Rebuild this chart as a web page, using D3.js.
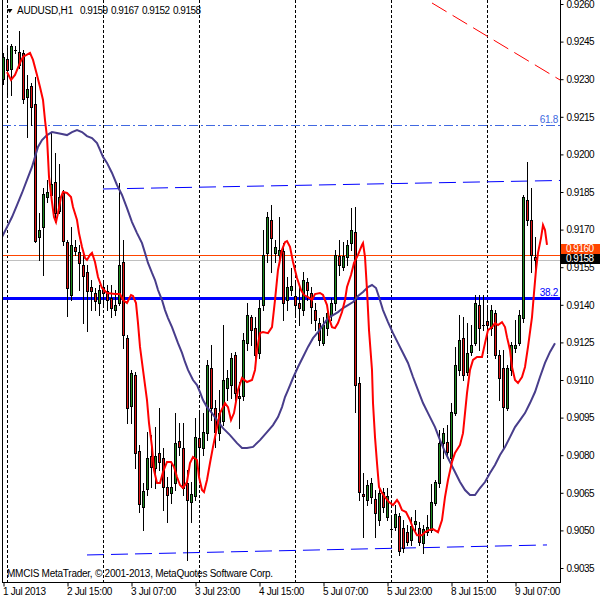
<!DOCTYPE html>
<html><head><meta charset="utf-8">
<script src="https://cdn.jsdelivr.net/npm/d3@7"></script>
<style>
body{margin:0;background:#fff}
svg{display:block}
text{font-family:"Liberation Sans",Arial,sans-serif;font-size:10px}
</style>
</head><body>
<svg id="chart" width="600" height="600"></svg>
<script>
// ---------- DATA ----------
const symbolLabel = "AUDUSD,H1";
const headerOHLC = ["0.9159", "0.9167", "0.9152", "0.9158"];
const copyright = "MMCIS MetaTrader, \u00A9 2001-2013, MetaQuotes Software Corp.";

const open = [
0.92301,0.92381,0.92341,0.92417,0.92409,0.92405,0.92229,0.92273,0.92201,0.91670,
0.91710,0.91830,0.91838,0.91890,0.91774,0.91846,0.91650,0.91439,0.91631,0.91611,
0.91559,0.91531,0.91471,0.91447,0.91407,0.91471,0.91455,0.91427,0.91379,0.91407,
0.91571,0.91267,0.90996,0.91120,0.90817,0.90593,0.90665,0.90797,0.90749,0.90809,
0.90789,0.90673,0.90649,0.90689,0.90856,0.90829,0.90689,0.90613,0.90637,0.90868,
0.90829,0.90888,0.91148,0.90988,0.90888,0.90936,0.91068,0.91080,0.91200,0.91036,
0.91036,0.91247,0.91351,0.91307,0.91208,0.91399,0.91607,0.91738,0.91607,0.91599,
0.91615,0.91419,0.91459,0.91435,0.91407,0.91379,0.91491,0.91447,0.91379,0.91327,
0.91247,0.91307,0.91359,0.91407,0.91595,0.91551,0.91591,0.91646,0.91690,0.91088,
0.90645,0.90621,0.90633,0.90625,0.90541,0.90653,0.90553,0.90505,0.90513,0.90557,
0.90509,0.90493,0.90461,0.90525,0.90509,0.90449,0.90493,0.90501,0.90609,0.90689,
0.90848,0.90852,0.90789,0.90968,0.91140,0.91267,0.91132,0.91212,0.91247,0.91399,
0.91319,0.91335,0.91307,0.91367,0.91200,0.91148,0.90988,0.91140,0.91228,0.91247,
0.91347,0.91818,0.91738,0.91590];

const high = [
0.92405,0.92436,0.92440,0.92432,0.92492,0.92417,0.92317,0.92285,0.92309,0.91766,
0.91866,0.91898,0.92089,0.92006,0.91962,0.91858,0.91658,0.91710,0.91658,0.91639,
0.91619,0.91559,0.91499,0.91467,0.91479,0.91487,0.91479,0.91479,0.91459,0.91886,
0.91658,0.91279,0.91140,0.91132,0.90841,0.90689,0.90892,0.90880,0.90912,0.90988,
0.90829,0.90713,0.90769,0.90968,0.90928,0.90928,0.90741,0.90693,0.90948,0.90968,
0.90968,0.91180,0.91239,0.91020,0.91060,0.91319,0.91140,0.91208,0.91212,0.91092,
0.91287,0.91407,0.91359,0.91351,0.91419,0.91698,0.91770,0.91798,0.91658,0.91750,
0.91646,0.91511,0.91547,0.91499,0.91471,0.91531,0.91507,0.91471,0.91407,0.91347,
0.91351,0.91387,0.91427,0.91619,0.91658,0.91650,0.91658,0.91786,0.91790,0.91112,
0.90729,0.90701,0.90709,0.90661,0.90673,0.90669,0.90669,0.90561,0.90601,0.90569,
0.90541,0.90521,0.90553,0.90581,0.90533,0.90520,0.90561,0.90685,0.90701,0.90900,
0.90908,0.90920,0.91008,0.91232,0.91359,0.91351,0.91327,0.91319,0.91439,0.91439,
0.91439,0.91399,0.91399,0.91379,0.91220,0.91220,0.91160,0.91251,0.91339,0.91379,
0.91838,0.91970,0.91866,0.91670];

const low = [
0.92281,0.92237,0.92237,0.92405,0.92345,0.92205,0.92069,0.92117,0.91650,0.91579,
0.91519,0.91810,0.91818,0.91730,0.91766,0.91639,0.91355,0.91419,0.91599,0.91459,
0.91327,0.91295,0.91379,0.91379,0.91359,0.91399,0.91379,0.91351,0.91359,0.91399,
0.91228,0.90928,0.90928,0.90749,0.90573,0.90501,0.90641,0.90673,0.90669,0.90741,
0.90581,0.90533,0.90609,0.90661,0.90801,0.90641,0.90382,0.90533,0.90621,0.90713,
0.90801,0.90860,0.90940,0.90833,0.90860,0.90920,0.91020,0.91028,0.91008,0.90908,
0.91020,0.91220,0.91239,0.91168,0.91188,0.91379,0.91571,0.91531,0.91571,0.91571,
0.91339,0.91379,0.91439,0.91359,0.91319,0.91359,0.91419,0.91327,0.91299,0.91239,
0.91239,0.91279,0.91339,0.91379,0.91519,0.91539,0.91559,0.91619,0.90972,0.90621,
0.90473,0.90601,0.90609,0.90473,0.90521,0.90573,0.90541,0.90481,0.90501,0.90402,
0.90414,0.90442,0.90442,0.90501,0.90442,0.90410,0.90481,0.90493,0.90601,0.90673,
0.90789,0.90801,0.90781,0.90960,0.91120,0.91100,0.91120,0.91200,0.91239,0.91220,
0.91299,0.91208,0.91279,0.91188,0.91020,0.90829,0.90980,0.91120,0.91212,0.91239,
0.91331,0.91718,0.91531,0.91520];

const close = [
0.92389,0.92337,0.92432,0.92416,0.92357,0.92221,0.92261,0.92189,0.91654,0.91698,
0.91842,0.91850,0.91882,0.91766,0.91830,0.91654,0.91467,0.91639,0.91615,0.91567,
0.91515,0.91455,0.91455,0.91415,0.91459,0.91447,0.91419,0.91387,0.91399,0.91559,
0.91279,0.90988,0.91128,0.90809,0.90605,0.90657,0.90789,0.90753,0.90797,0.90773,
0.90673,0.90641,0.90673,0.90848,0.90833,0.90669,0.90621,0.90645,0.90872,0.90833,
0.90892,0.91160,0.90988,0.90892,0.90968,0.91100,0.91108,0.91188,0.91048,0.91028,
0.91259,0.91359,0.91299,0.91200,0.91387,0.91599,0.91750,0.91666,0.91631,0.91619,
0.91407,0.91471,0.91475,0.91399,0.91387,0.91499,0.91459,0.91391,0.91339,0.91259,
0.91319,0.91367,0.91407,0.91599,0.91559,0.91595,0.91639,0.91698,0.91080,0.90653,
0.90637,0.90681,0.90689,0.90569,0.90649,0.90593,0.90637,0.90504,0.90565,0.90418,
0.90430,0.90453,0.90517,0.90537,0.90453,0.90505,0.90513,0.90613,0.90693,0.90848,
0.90888,0.90813,0.90972,0.91160,0.91259,0.91120,0.91208,0.91239,0.91407,0.91307,
0.91318,0.91319,0.91379,0.91200,0.91108,0.90992,0.91148,0.91239,0.91239,0.91359,
0.91830,0.91738,0.91599,0.91580];

// moving averages: [bar position, price]
const fastMA = [
[1,0.92329],[2,0.92297],[3,0.92317],[4.25,0.92365],[5,0.92389],[6.75,0.92405],[7.5,0.92377],[8.5,0.92317],[9.25,0.92269],[10,0.92217],
[10.5,0.92137],[11,0.92069],[11.25,0.91990],[11.5,0.91910],[12.25,0.91810],[12.75,0.91750],[13.25,0.91730],[13.75,0.91766],[14.5,0.91830],[15,0.91850],
[16,0.91846],[17,0.91830],[17.5,0.91790],[18.5,0.91738],[19,0.91686],[19.75,0.91631],[20.5,0.91587],[21,0.91579],[21.75,0.91599],[22.25,0.91607],
[23,0.91571],[23.75,0.91511],[24.75,0.91467],[26,0.91447],[28,0.91443],[29.25,0.91443],[30,0.91419],[31,0.91407],[32,0.91439],[32.5,0.91435],
[33.25,0.91407],[33.75,0.91327],[34.25,0.91232],[35,0.91140],[36,0.91020],[36.5,0.90928],[37.25,0.90833],[37.75,0.90741],[38.5,0.90689],[39.25,0.90689],
[40,0.90733],[41,0.90773],[42,0.90773],[42.75,0.90753],[43.5,0.90713],[44.25,0.90681],[45,0.90669],[46,0.90693],[46.75,0.90769],[47.5,0.90793],
[48.5,0.90781],[49,0.90713],[49.75,0.90661],[50.25,0.90653],[51,0.90701],[51.75,0.90769],[52.5,0.90833],[53,0.90872],[54.25,0.90968],[55.5,0.91008],
[56.25,0.90992],[57,0.90940],[57.75,0.90968],[58.75,0.91060],[59.75,0.91108],[61,0.91092],[62.25,0.91100],[63,0.91140],[63.5,0.91220],[64.25,0.91287],
[65,0.91291],[66.25,0.91287],[67.25,0.91311],[68,0.91419],[68.75,0.91539],[69.75,0.91619],[70.5,0.91650],[71,0.91654],[71.75,0.91631],[72.5,0.91571],
[73.5,0.91507],[74.5,0.91459],[75.25,0.91439],[76.25,0.91431],[77.25,0.91419],[78,0.91443],[79.25,0.91447],[80,0.91439],[81,0.91399],[81.5,0.91347],
[82.25,0.91311],[83,0.91307],[83.75,0.91327],[84.75,0.91371],[85.5,0.91419],[86,0.91471],[87,0.91519],[87.75,0.91567],[88.75,0.91599],[89.75,0.91639],
[90,0.91646],[90.5,0.91591],[91,0.91459],[91.5,0.91299],[92.25,0.91140],[92.5,0.91008],[93,0.90872],[93.5,0.90769],[94,0.90673],[94.75,0.90649],
[95.5,0.90633],[96.5,0.90613],[97.5,0.90601],[98.5,0.90621],[99,0.90609],[99.75,0.90581],[100.75,0.90573],[101.75,0.90541],[102.5,0.90509],[103.5,0.90481],
[104.75,0.90481],[105.5,0.90493],[106.5,0.90501],[107.5,0.90505],[108.75,0.90493],[109.75,0.90541],[110.5,0.90633],[111.25,0.90701],[112.25,0.90773],[113,0.90809],
[114.25,0.90841],[115,0.90888],[115.5,0.90968],[116,0.91048],[116.75,0.91140],[117.5,0.91180],[118.5,0.91192],[119.75,0.91192],[120.5,0.91247],[121.25,0.91299],
[122.25,0.91311],[123,0.91327],[123.75,0.91319],[124.75,0.91331],[125.5,0.91311],[126,0.91271],[126.75,0.91220],[127.25,0.91152],[128,0.91100],[128.75,0.91088],
[129.75,0.91112],[130.5,0.91152],[131.25,0.91232],[132.25,0.91351],[132.75,0.91447],[133.25,0.91539],[133.75,0.91607],[134.5,0.91666],[135,0.91718],[135.5,0.91698],
[136,0.91639]];

const slowMA = [
[-0.25,0.91670],[1,0.91710],[2.25,0.91750],[3.5,0.91798],[4.75,0.91846],[6,0.91898],[7.25,0.91950],[8,0.91990],[8.75,0.92030],[9.75,0.92057],
[11,0.92077],[12.25,0.92089],[13.5,0.92085],[14.75,0.92081],[16,0.92077],[17.25,0.92089],[18.5,0.92097],[19.75,0.92089],[21,0.92073],[22.25,0.92065],
[23.5,0.92045],[24.25,0.92018],[25,0.91990],[26,0.91966],[27.25,0.91926],[28.5,0.91878],[29.75,0.91838],[31,0.91786],[32.25,0.91730],[33.5,0.91686],
[34.75,0.91646],[35.5,0.91607],[36.25,0.91567],[37.25,0.91527],[38,0.91499],[38.75,0.91459],[39.75,0.91419],[40.5,0.91379],[41.25,0.91347],[42.25,0.91311],
[43,0.91279],[43.75,0.91247],[44.75,0.91208],[45.5,0.91172],[46.25,0.91140],[47.5,0.91100],[48.5,0.91080],[49.25,0.91052],[50,0.91020],[51,0.90992],
[52.25,0.90968],[53.5,0.90940],[55,0.90908],[56.75,0.90880],[58.5,0.90848],[59.75,0.90829],[61,0.90829],[62.5,0.90833],[64.25,0.90860],[66,0.90892],
[67.5,0.90920],[68.75,0.90952],[69.75,0.90992],[70.5,0.91032],[71.25,0.91060],[72.5,0.91108],[73.75,0.91152],[75,0.91192],[76.25,0.91232],[77.5,0.91267],
[78.75,0.91291],[80,0.91319],[81.25,0.91347],[82.5,0.91359],[83.75,0.91371],[85,0.91387],[86.25,0.91399],[87.5,0.91411],[88.75,0.91435],[90,0.91451],
[91.25,0.91471],[92.25,0.91479],[93.25,0.91467],[94,0.91431],[95,0.91379],[96.25,0.91331],[97.5,0.91287],[98.75,0.91247],[100,0.91208],[101.25,0.91168],
[102.5,0.91112],[103.75,0.91060],[105,0.91008],[106.25,0.90968],[108,0.90912],[109.25,0.90860],[110.5,0.90813],[111.75,0.90773],[113,0.90733],[114.25,0.90693],
[115.5,0.90661],[116.75,0.90641],[118,0.90641],[119.25,0.90669],[120.5,0.90693],[121.75,0.90729],[123,0.90761],[124.25,0.90801],[125.5,0.90833],[126.75,0.90872],
[128,0.90912],[129.25,0.90940],[130.5,0.90968],[131.75,0.91008],[133,0.91052],[134.25,0.91112],[135.5,0.91168],[136.75,0.91212],[138,0.91247]];

// chart objects
const upperChannel = [[25, 0.91862], [139.25, 0.91896]];
const lowerChannel = [[21, 0.90402], [136, 0.90442]];
const redTrendLine = [[107.25, 0.92604], [139.25, 0.92297]];
const fibLevels = [{label: "61.8", price: 0.92117}, {label: "38.2", price: 0.91427}];
const bidPrice = 0.9158, askPrice = 0.9160;
const bidLabel = "0.9158", askLabel = "0.9160";

const priceTicks = [0.9260,0.9245,0.9230,0.9215,0.9200,0.9185,0.9170,0.9155,0.9140,0.9125,0.9110,0.9095,0.9080,0.9065,0.9050,0.9035];
const dateTickBars = [0,16,32,48,64,80,96,112,128];
const dateTickLabels = ["1 Jul 2013","2 Jul 15:00","3 Jul 07:00","3 Jul 23:00","4 Jul 15:00","5 Jul 07:00","5 Jul 23:00","8 Jul 15:00","9 Jul 07:00"];
const daySeparatorBars = [1,25,49,73,97,121];

// ---------- DRAW ----------
const svg = d3.select("#chart");
const plotL = 2, plotR = 560, plotB = 582;
const x = d3.scaleLinear().domain([0, 133]).range([3, 535]);
const y = d3.scaleLinear().domain([0.9035, 0.9260]).range([568, 4]);

svg.append("defs").append("clipPath").attr("id","clip")
  .append("rect").attr("x", plotL + 1).attr("y", 0).attr("width", plotR - plotL - 1).attr("height", plotB);

const plot = svg.append("g").attr("clip-path","url(#clip)");

// day separators
plot.selectAll("line.sep").data(daySeparatorBars).join("line")
  .attr("x1", d => Math.round(x(d)) + 0.5).attr("x2", d => Math.round(x(d)) + 0.5)
  .attr("y1", 0).attr("y2", plotB)
  .attr("stroke", "#000").attr("stroke-width", 1).attr("stroke-dasharray", "3,2");

// fib levels
const fibColor = {"61.8": "#4169E1", "38.2": "#0000FF"};
fibLevels.forEach(f => {
  const yy = Math.round(y(f.price)) + 0.5;
  const ln = plot.append("line").attr("x1", plotL).attr("x2", plotR).attr("y1", yy).attr("y2", yy)
    .attr("stroke", fibColor[f.label]);
  if (f.label === "38.2") ln.attr("stroke-width", 3);
  else ln.attr("stroke-width", 1).attr("stroke-dasharray", "9,3,2,3");
});

// bid / ask lines
[[askPrice, "#FF4500"], [bidPrice, "#C0C0C0"]].forEach(([p, c]) => {
  const yy = Math.round(y(p)) + 0.5;
  plot.append("line").attr("x1", plotL).attr("x2", plotR).attr("y1", yy).attr("y2", yy)
    .attr("stroke", c).attr("stroke-width", 1);
});

// channel & trend lines
const seg = d3.line().x(d => x(d[0])).y(d => y(d[1]));
plot.append("path").attr("d", seg(upperChannel)).attr("fill","none")
  .attr("stroke","#0000FF").attr("stroke-width",1).attr("stroke-dasharray","17,7");
plot.append("path").attr("d", seg(lowerChannel)).attr("fill","none")
  .attr("stroke","#0000FF").attr("stroke-width",1).attr("stroke-dasharray","17,7");
plot.append("path").attr("d", seg(redTrendLine)).attr("fill","none")
  .attr("stroke","#FF0000").attr("stroke-width",1).attr("stroke-dasharray","17,7");

// candles
const bars = d3.range(open.length);
const cg = plot.append("g");
bars.forEach(i => {
  const cx = Math.round(x(i));
  const o = open[i], c = close[i];
  cg.append("line").attr("x1", cx + 0.5).attr("x2", cx + 0.5)
    .attr("y1", Math.round(y(high[i]))).attr("y2", Math.round(y(low[i])) + 1)
    .attr("stroke", "#000").attr("stroke-width", 1);
  const top = Math.round(y(Math.max(o, c))), bot = Math.round(y(Math.min(o, c)));
  if (bot - top < 1) {
    cg.append("line").attr("x1", cx - 1).attr("x2", cx + 2)
      .attr("y1", top + 0.5).attr("y2", top + 0.5).attr("stroke", "#000");
  } else {
    cg.append("rect").attr("x", cx - 0.5).attr("y", top + 0.5)
      .attr("width", 2).attr("height", bot - top)
      .attr("fill", c >= o ? "#1F8A1F" : "#E01515")
      .attr("stroke", "#000").attr("stroke-width", 1);
  }
});

// moving averages
const maLine = d3.line().x(d => x(d[0])).y(d => y(d[1]));
plot.append("path").attr("d", maLine(slowMA)).attr("fill","none")
  .attr("stroke","#483D8B").attr("stroke-width",2);
plot.append("path").attr("d", maLine(fastMA)).attr("fill","none")
  .attr("stroke","#FF0000").attr("stroke-width",2);

// fib labels
fibLevels.forEach(f => {
  svg.append("text").attr("x", 558).attr("y", Math.round(y(f.price)) - 2)
    .attr("text-anchor","end").attr("fill", fibColor[f.label]).style("letter-spacing","-0.3px")
    .text(f.label);
});

// frame
svg.append("line").attr("x1", plotL + 0.5).attr("x2", plotL + 0.5).attr("y1", 0).attr("y2", plotB + 1).attr("stroke","#000");
svg.append("line").attr("x1", plotR + 0.5).attr("x2", plotR + 0.5).attr("y1", 0).attr("y2", plotB + 1).attr("stroke","#000");
svg.append("line").attr("x1", plotL).attr("x2", plotR + 1).attr("y1", plotB + 0.5).attr("y2", plotB + 0.5).attr("stroke","#000");

// right price axis
const yAxis = d3.axisRight(y).tickValues(priceTicks).tickFormat(d3.format(".4f")).tickSize(3).tickPadding(3);
const ya = svg.append("g").attr("transform", `translate(${plotR + 0.5},0)`).call(yAxis);
ya.select(".domain").remove();
ya.selectAll("text").attr("font-family", null).attr("font-size", null).attr("fill","#000").style("letter-spacing","-0.5px");
ya.selectAll("line").attr("stroke","#000");

// bottom date axis
const xAxis = d3.axisBottom(x).tickValues(dateTickBars).tickFormat((d, i) => dateTickLabels[i]).tickSize(4);
const xa = svg.append("g").attr("transform", `translate(0.5,${plotB + 0.5})`).call(xAxis);
xa.select(".domain").remove();
xa.selectAll("text").attr("font-family", null).attr("font-size", null)
  .attr("text-anchor","start").attr("x", -1).attr("y", 12.5).attr("dy", null)
  .attr("fill","#000").style("letter-spacing","-0.35px");
xa.selectAll("line").attr("stroke","#000");

// bid / ask boxes (ask box sits just above the bid box)
const askY = Math.round(y(askPrice));
svg.append("rect").attr("x", 561).attr("y", askY - 11).attr("width", 39).attr("height", 10).attr("fill","#FF4500");
svg.append("text").attr("x", 566).attr("y", askY - 3).attr("fill","#fff").style("letter-spacing","-0.5px").text(askLabel);
svg.append("rect").attr("x", 561).attr("y", askY - 1).attr("width", 39).attr("height", 10).attr("fill","#000");
svg.append("text").attr("x", 566).attr("y", askY + 6.5).attr("fill","#fff").style("letter-spacing","-0.5px").text(bidLabel);

// header
svg.append("path").attr("d","M7,9 L12.5,9 L9.75,13 Z").attr("fill","#000");
svg.append("text").attr("x", 17).attr("y", 14).attr("fill","#000").style("letter-spacing","-0.2px").text(symbolLabel);
const hx = [80, 111, 142, 173];
headerOHLC.forEach((t, i) => svg.append("text").attr("x", hx[i]).attr("y", 14).attr("fill","#000").style("letter-spacing","-0.5px").text(t));

// copyright
svg.append("text").attr("x", 7).attr("y", 577).attr("fill","#000").style("letter-spacing","-0.25px").text(copyright);
</script>
</body></html>
